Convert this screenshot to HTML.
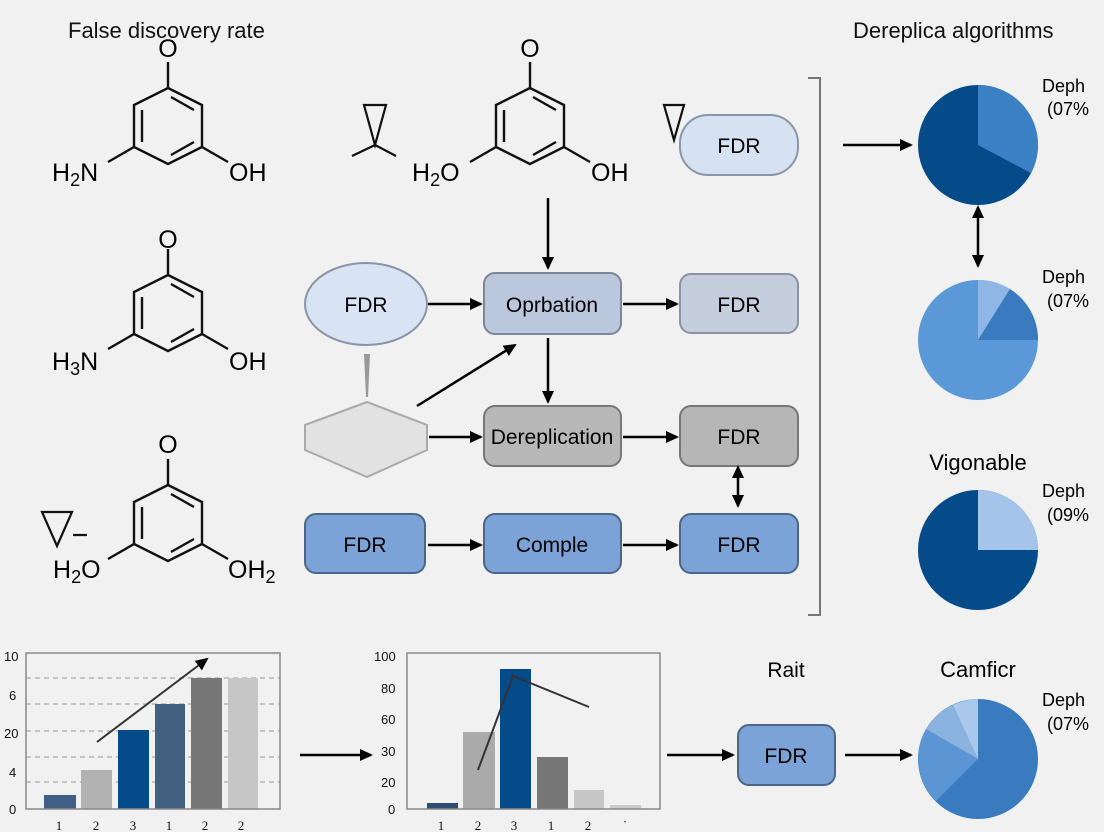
<!DOCTYPE html>
<html><head><meta charset="utf-8"><style>
html,body{margin:0;padding:0;background:#f1f1f1;}
svg{display:block;font-family:"Liberation Sans",sans-serif;}
</style></head><body>
<svg width="1104" height="832" viewBox="0 0 1104 832" xmlns="http://www.w3.org/2000/svg">
<defs>
<marker id="ah" markerWidth="14" markerHeight="14" refX="11" refY="7" orient="auto" markerUnits="userSpaceOnUse"><path d="M0,1 L13,7 L0,13 Z" fill="#000"/></marker>
<marker id="ahs" markerWidth="14" markerHeight="14" refX="2" refY="7" orient="auto-start-reverse" markerUnits="userSpaceOnUse"><path d="M0,1 L13,7 L0,13 Z" fill="#000"/></marker>
<g id="ring" fill="none" stroke="#111" stroke-width="2.4">
<path d="M0,-38 L34,-21 L34,21 L0,38 L-34,21 L-34,-21 Z"/>
<path d="M-26,-16 L-26,16 M3,-29 L26,-16 M26,16 L3,29 M0,-38 L0,-64 M-34,21 L-60,36 M34,21 L60,36"/>
</g>
</defs>
<rect width="1104" height="832" fill="#f1f1f1"/>

<text x="68" y="38" font-size="22" fill="#111">False discovery rate</text>
<text x="853" y="38" font-size="22" fill="#111">Dereplica algorithms</text>

<use href="#ring" x="168" y="126"/>
<text x="168" y="57" font-size="25" text-anchor="middle">O</text>
<text x="52" y="181" font-size="25">H<tspan font-size="18" dy="5">2</tspan><tspan dy="-5">N</tspan></text>
<text x="229" y="181" font-size="25">OH</text>

<use href="#ring" x="168" y="313"/>
<text x="168" y="248" font-size="25" text-anchor="middle">O</text>
<text x="52" y="370" font-size="25">H<tspan font-size="18" dy="5">3</tspan><tspan dy="-5">N</tspan></text>
<text x="229" y="370" font-size="25">OH</text>

<use href="#ring" x="168" y="523"/>
<text x="168" y="453" font-size="25" text-anchor="middle">O</text>
<text x="53" y="578" font-size="25">H<tspan font-size="18" dy="5">2</tspan><tspan dy="-5">O</tspan></text>
<text x="228" y="578" font-size="25">OH<tspan font-size="18" dy="5">2</tspan></text>
<path d="M42,512 L72,512 L57,546 Z M73,535 L87,535" fill="none" stroke="#111" stroke-width="2.2"/>

<use href="#ring" x="530" y="126"/>
<text x="530" y="57" font-size="25" text-anchor="middle">O</text>
<text x="412" y="181" font-size="25">H<tspan font-size="18" dy="5">2</tspan><tspan dy="-5">O</tspan></text>
<text x="591" y="181" font-size="25">OH</text>
<path d="M364,105 L386,105 L375,145 Z M352,156 L375,145 L396,156" fill="none" stroke="#111" stroke-width="2.2"/>
<path d="M664,105 L684,105 L674,140 Z" fill="none" stroke="#111" stroke-width="2.2"/>

<rect x="680" y="115" width="118" height="60" rx="28" fill="#d6e2f2" stroke="#8a96a8" stroke-width="2"/>
<text x="739" y="153" font-size="21" text-anchor="middle">FDR</text>

<ellipse cx="366" cy="304" rx="61" ry="41" fill="#d8e3f3" stroke="#8a96a8" stroke-width="2"/>
<text x="366" y="312" font-size="21" text-anchor="middle">FDR</text>
<rect x="484" y="273" width="137" height="61" rx="11" fill="#bac7dc" stroke="#7c8696" stroke-width="2"/>
<text x="552" y="312" font-size="21" text-anchor="middle">Oprbation</text>
<rect x="680" y="274" width="118" height="59" rx="11" fill="#c5cedd" stroke="#8a93a2" stroke-width="2"/>
<text x="739" y="312" font-size="21" text-anchor="middle">FDR</text>

<path d="M364,354 L370,354 L368,397 L366,397 Z" fill="#999"/>
<path d="M305,425 L367,402 L427,425 L427,450 L367,477 L305,450 Z" fill="#e2e2e2" stroke="#aaa" stroke-width="2"/>
<rect x="484" y="406" width="137" height="60" rx="11" fill="#b8b8b8" stroke="#777" stroke-width="2"/>
<text x="552" y="444" font-size="21" text-anchor="middle">Dereplication</text>
<rect x="680" y="406" width="118" height="60" rx="11" fill="#b6b6b6" stroke="#777" stroke-width="2"/>
<text x="739" y="444" font-size="21" text-anchor="middle">FDR</text>

<rect x="305" y="514" width="120" height="59" rx="11" fill="#7ba3d7" stroke="#4d6687" stroke-width="2"/>
<text x="365" y="552" font-size="21" text-anchor="middle">FDR</text>
<rect x="484" y="514" width="137" height="59" rx="11" fill="#7ba3d7" stroke="#4d6687" stroke-width="2"/>
<text x="552" y="552" font-size="21" text-anchor="middle">Comple</text>
<rect x="680" y="514" width="118" height="59" rx="11" fill="#7ba3d7" stroke="#4d6687" stroke-width="2"/>
<text x="739" y="552" font-size="21" text-anchor="middle">FDR</text>

<g stroke="#000" stroke-width="2.5" fill="none" marker-end="url(#ah)">
<path d="M548,198 L548,268"/>
<path d="M428,304 L481,304"/>
<path d="M623,304 L677,304"/>
<path d="M548,338 L548,402"/>
<path d="M417,406 L515,345"/>
<path d="M429,437 L481,437"/>
<path d="M623,437 L677,437"/>
<path d="M428,545 L481,545"/>
<path d="M623,545 L677,545"/>
<path d="M843,145 L911,145"/>
<path d="M300,755 L371,755"/>
<path d="M667,755 L733,755"/>
<path d="M845,755 L911,755"/>
<path d="M738,476 L738,506" marker-start="url(#ahs)"/>
<path d="M978,216 L978,266" marker-start="url(#ahs)"/>
</g>

<path d="M808,78 L820,78 L820,615 L808,615" fill="none" stroke="#777" stroke-width="2"/>

<circle cx="978" cy="145" r="60" fill="#054b8a"/>
<path d="M978,145 L978,85 A60,60 0 0 1 1031,173 Z" fill="#3b80c2"/>
<text x="1042" y="92" font-size="18">Deph</text><text x="1047" y="115" font-size="18">(07%</text>

<circle cx="978" cy="340" r="60" fill="#5b98d7"/>
<path d="M978,340 L978,280 A60,60 0 0 1 1010,289 Z" fill="#8fb6e4"/>
<path d="M978,340 L1010,289 A60,60 0 0 1 1038,340 Z" fill="#3a7bbf"/>
<text x="1042" y="283" font-size="18">Deph</text><text x="1047" y="307" font-size="18">(07%</text>

<text x="978" y="470" font-size="22" text-anchor="middle">Vigonable</text>
<circle cx="978" cy="550" r="60" fill="#054b8a"/>
<path d="M978,550 L978,490 A60,60 0 0 1 1038,550 Z" fill="#a4c4ea"/>
<text x="1042" y="497" font-size="18">Deph</text><text x="1047" y="521" font-size="18">(09%</text>

<text x="786" y="677" font-size="21" text-anchor="middle">Rait</text>
<rect x="738" y="725" width="97" height="60" rx="11" fill="#7ba3d7" stroke="#4d6687" stroke-width="2"/>
<text x="786" y="763" font-size="21" text-anchor="middle">FDR</text>
<text x="978" y="677" font-size="22" text-anchor="middle">Camficr</text>
<circle cx="978" cy="759" r="60" fill="#3a7bbf"/>
<path d="M978,759 L936,801 A60,60 0 0 1 926,729 Z" fill="#5b95d4"/>
<path d="M978,759 L926,729 A60,60 0 0 1 953,705 Z" fill="#8ab3e0"/>
<path d="M978,759 L953,705 A60,60 0 0 1 978,699 Z" fill="#a9c8ec"/>
<text x="1042" y="706" font-size="18">Deph</text><text x="1047" y="730" font-size="18">(07%</text>

<g stroke="#aaa" stroke-width="1.2" stroke-dasharray="5,4">
<path d="M26,678 H280 M26,704 H280 M26,731 H280 M26,757 H280 M26,782 H280"/>
</g>
<rect x="44" y="795" width="32" height="14" fill="#3f5f85"/>
<rect x="81" y="770" width="31" height="39" fill="#b2b2b2"/>
<rect x="118" y="730" width="31" height="79" fill="#054b8a"/>
<rect x="155" y="704" width="30" height="105" fill="#42607f"/>
<rect x="191" y="678" width="31" height="131" fill="#777"/>
<rect x="228" y="678" width="30" height="131" fill="#c6c6c6"/>
<rect x="26" y="653" width="254" height="156" fill="none" stroke="#888" stroke-width="1.5"/>
<path d="M97,742 L207,659" stroke="#333" stroke-width="2" marker-end="url(#ah)"/>
<g font-size="13" fill="#111">
<text x="4" y="661">10</text><text x="9" y="700">6</text><text x="4" y="738">20</text><text x="9" y="777">4</text><text x="9" y="814">0</text>
</g>
<g font-size="13" fill="#111" font-family="Liberation Serif,serif" text-anchor="middle">
<text x="59" y="830">1</text><text x="96" y="830">2</text><text x="133" y="830">3</text><text x="169" y="830">1</text><text x="205" y="830">2</text><text x="241" y="830">2</text>
</g>

<rect x="427" y="803" width="31" height="6" fill="#2f4f70"/>
<rect x="463" y="732" width="32" height="77" fill="#aaa"/>
<rect x="500" y="669" width="31" height="140" fill="#054b8a"/>
<rect x="537" y="757" width="31" height="52" fill="#777"/>
<rect x="574" y="790" width="30" height="19" fill="#c6c6c6"/>
<rect x="610" y="805" width="31" height="4" fill="#ccc"/>
<rect x="407" y="653" width="253" height="156" fill="none" stroke="#888" stroke-width="1.5"/>
<path d="M478,770 L513,676 L589,707" fill="none" stroke="#333" stroke-width="2"/>
<g font-size="13" fill="#111">
<text x="374" y="661">100</text><text x="381" y="693">80</text><text x="381" y="724">60</text><text x="381" y="756">30</text><text x="381" y="787">20</text><text x="388" y="814">0</text>
</g>
<g font-size="13" fill="#111" font-family="Liberation Serif,serif" text-anchor="middle">
<text x="441" y="830">1</text><text x="478" y="830">2</text><text x="514" y="830">3</text><text x="551" y="830">1</text><text x="588" y="830">2</text><text x="625" y="826">·</text>
</g>
</svg>
</body></html>
